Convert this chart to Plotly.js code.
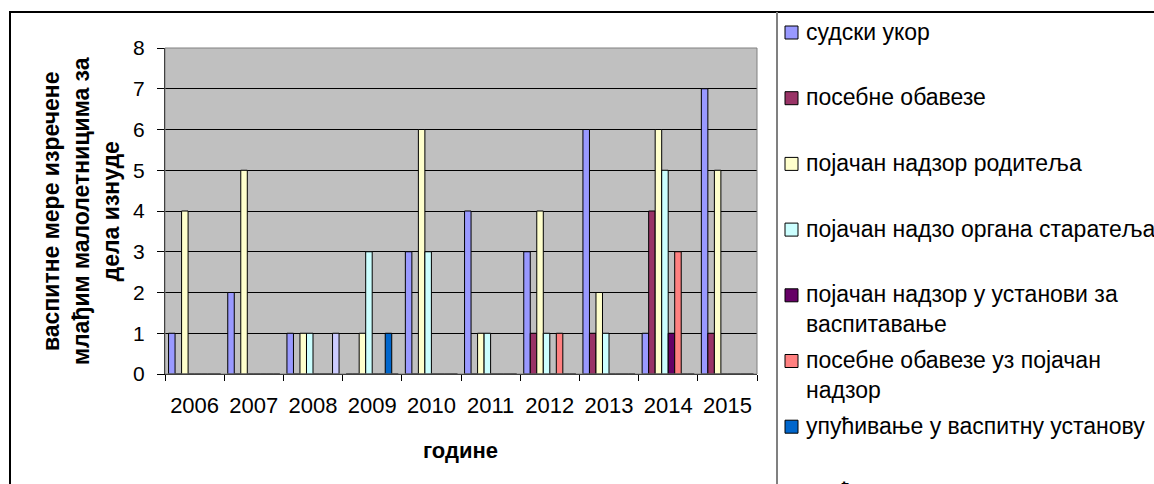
<!DOCTYPE html>
<html><head><meta charset="utf-8">
<script src="https://cdn.plot.ly/plotly-3.0.1.min.js"></script>
<style>html,body{margin:0;padding:0;background:#fff;overflow:hidden}#chart{width:1154px;height:484px}</style>
</head><body><div id="chart"></div>
<script>
// ---- data ----
const years = ['2006','2007','2008','2009','2010','2011','2012','2013','2014','2015'];
const sudskiUkor = [1,2,1,0,3,4,3,6,1,7];
const posebneObaveze = [0,0,0,0,0,0,1,1,4,1];
const nadzorRoditelja = [4,5,1,1,6,1,4,2,6,5];
const nadzorOrganaStaratelja = [0,0,1,3,3,1,1,1,5,0];
const nadzorUstanova = [0,0,0,0,0,0,0,0,1,0];
const obavezeUzNadzor = [0,0,0,0,0,0,1,0,3,0];
const upucivanjeVaspitna = [0,0,0,1,0,0,0,0,0,0];
const upucivanjePopravni = [0,0,1,0,0,0,0,0,0,0];
const seriesNames = [
  'судски укор',
  'посебне обавезе',
  'појачан надзор родитеља',
  'појачан надзо органа старатеља',
  'појачан надзор у установи за васпитавање',
  'посебне обавезе уз појачан надзор',
  'упућивање у васпитну установу',
  'упућивање у васпитно-поправни дом'
];
const legendLabels = [
  'судски укор',
  'посебне обавезе',
  'појачан надзор родитеља',
  'појачан надзо органа старатеља',
  'појачан надзор у установи за<br>васпитавање',
  'посебне обавезе уз појачан<br>надзор',
  'упућивање у васпитну установу',
  'упућивање у васпитно-поправни дом'
];
const seriesValues = [sudskiUkor, posebneObaveze, nadzorRoditelja, nadzorOrganaStaratelja,
  nadzorUstanova, obavezeUzNadzor, upucivanjeVaspitna, upucivanjePopravni];
const yTitle = 'васпитне мере изречене<br>млађим малолетницима за<br>дела изнуде';
const xTitle = 'године';

// ---- styles ----
const colors = ['#9999FF','#993366','#FFFFCC','#CCFFFF','#660066','#FF8080','#0066CC','#CCCCFF'];
const FONT = 'Liberation Sans, Arial, sans-serif';
const L = 165, R = 757, T = 48, B = 374, W = 1154, H = 484;
const px2x = p => (p - L) / (R - L);
const py2y = p => (B - p) / (B - T);

const traces = seriesValues.map((vals, i) => ({
  type: 'bar', name: seriesNames[i], x: years, y: vals,
  marker: {color: colors[i], line: {color: '#000', width: 1}},
  hoverinfo: 'skip'
}));

const shapes = [
  {type:'rect', xref:'paper', yref:'paper', x0:px2x(10), x1:px2x(1200), y0:py2y(12), y1:py2y(520),
   line:{color:'#000', width:2}},
  {type:'line', xref:'paper', yref:'paper', x0:px2x(777), x1:px2x(777), y0:py2y(12), y1:py2y(520),
   line:{color:'#808080', width:2}},
  {type:'rect', xref:'paper', yref:'paper', x0:0, x1:1, y0:0, y1:1, line:{color:'#808080', width:1}}
];
const annotations = [
  {xref:'paper', yref:'paper', x:px2x(81), y:py2y(211), xanchor:'center', yanchor:'middle',
   text:yTitle, textangle:-90, showarrow:false, font:{family:FONT, size:23, color:'#000', weight:'bold'}},
  {xref:'paper', yref:'paper', x:px2x(460), y:py2y(450), xanchor:'center', yanchor:'middle',
   text:xTitle, showarrow:false, font:{family:FONT, size:22, color:'#000', weight:'bold'}}
];
legendLabels.forEach((lab, i) => {
  const cy = 32.5 + 65.7 * i;
  shapes.push({type:'rect', xref:'paper', yref:'paper', x0:px2x(785), x1:px2x(798),
    y0:py2y(cy - 6.5), y1:py2y(cy + 6.5), fillcolor:colors[i], line:{color:'#000', width:1}});
  annotations.push({xref:'paper', yref:'paper', x:px2x(804), y:py2y(cy - 16), xanchor:'left', yanchor:'top',
    align:'left', text:lab, showarrow:false, font:{family:FONT, size:23, color:'#000'}});
});

const layout = {
  width: W, height: H,
  margin: {l: L, r: W - R, t: T, b: H - B, pad: 0, autoexpand: false},
  paper_bgcolor: '#fff', plot_bgcolor: '#C0C0C0',
  barmode: 'group', bargap: 0.12, bargroupgap: 0,
  showlegend: false,
  font: {family: FONT, color: '#000'},
  xaxis: {type:'category', tickson:'boundaries', ticks:'outside', ticklen:6, tickcolor:'#000', tickwidth:1,
    showline:true, linecolor:'#000', linewidth:1, showgrid:false, zeroline:false,
    tickfont:{family:FONT, size:22, color:'#000'}, ticklabelstandoff:12, fixedrange:true},
  yaxis: {range:[0,8], dtick:1, tick0:0, ticks:'outside', ticklen:7, tickcolor:'#000', tickwidth:1,
    showline:true, linecolor:'#000', linewidth:1, showgrid:true, gridcolor:'#000', gridwidth:1,
    zeroline:false, tickfont:{family:FONT, size:21, color:'#000'}, ticklabelstandoff:8, fixedrange:true},
  shapes: shapes, annotations: annotations
};
Plotly.newPlot('chart', traces, layout, {displayModeBar:false, staticPlot:true});
</script>
</body></html>
